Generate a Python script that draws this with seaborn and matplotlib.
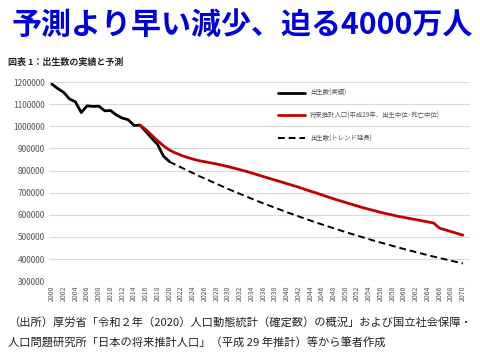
import numpy as np
import pandas as pd
import seaborn as sns
from matplotlib import pyplot as plt

sns.set_style('white')
plt.rcParams['font.family'] = ['Noto Sans CJK JP', 'DejaVu Sans']

# 出生数（実績）
years_actual = list(range(2000, 2021))
births_actual = [1190547, 1170662, 1153855, 1123610, 1110721, 1062530, 1092674,
                 1089818, 1091156, 1070035, 1071304, 1050806, 1037231, 1029816,
                 1003539, 1005677, 976978, 946146, 918400, 865239, 840835]

# 将来推計人口（平成29年、出生中位・死亡中位）
years_proj = list(range(2015, 2071))
births_proj = [1005000, 985000, 960000, 935000, 912000, 893000, 880000, 869000,
               860000, 852000, 845000, 840000, 835000, 830000, 824000, 818000,
               811000, 804000, 797000, 789000, 781000, 773000, 765000, 757000,
               749000, 741000, 733000, 725000, 716000, 707000, 699000, 690000,
               681000, 672000, 664000, 656000, 648000, 640000, 632000, 625000,
               618000, 611000, 605000, 599000, 593000, 588000, 583000, 578000,
               573000, 568000, 563000, 540000, 532000, 524000, 516000, 508000]

# 出生数（トレンド延長）
years_trend = [2020, 2025, 2030, 2035, 2040, 2045, 2050, 2055, 2060, 2065, 2070]
births_trend = [840000, 776000, 717000, 662000, 612000, 565000, 522000,
                482000, 445000, 411000, 380000]

labels = ['出生数(実績)', '将来推計人口(平成29年、出生中位·死亡中位)', '出生数(トレンド延長)']

df_a = pd.DataFrame({'年': years_actual, '出生数': births_actual})
df_p = pd.DataFrame({'年': years_proj, '出生数': births_proj})
df_t = pd.DataFrame({'年': years_trend, '出生数': births_trend})

fig = plt.figure(figsize=(4.8, 3.6), dpi=100)
ax = fig.add_axes([0.102, 0.219, 0.877, 0.553])

sns.lineplot(data=df_a, x='年', y='出生数', ax=ax, color='black', lw=2.0, label=labels[0])
sns.lineplot(data=df_p, x='年', y='出生数', ax=ax, color='#c00000', lw=2.0, label=labels[1])
sns.lineplot(data=df_t, x='年', y='出生数', ax=ax, color='black', lw=1.4,
             linestyle=(0, (3.5, 2)), label=labels[2])

ax.set_xlim(1999.5, 2071.2)
ax.set_ylim(300000, 1200000)
ax.set_xticks(range(2000, 2071, 2))
ax.set_xticklabels([str(y) for y in range(2000, 2071, 2)], rotation=90,
                   fontsize=5, color='#555555')
ax.set_yticks(range(300000, 1200001, 100000))
ax.set_yticklabels([str(v) for v in range(300000, 1200001, 100000)],
                   fontsize=6, color='#555555')
ax.tick_params(length=0, pad=3)
ax.grid(axis='y', color='#d9d9d9', lw=0.8)
ax.set_axisbelow(True)
for s in ax.spines.values():
    s.set_visible(False)
ax.set_xlabel('')
ax.set_ylabel('')

ax.legend(loc='upper left', bbox_to_anchor=(0.53, 0.995), frameon=False,
          fontsize=4.6, handlelength=4.2, labelspacing=2.3, labelcolor='#555555')

fig.text(0.505, 0.932, '予測より早い減少、迫る4000万人', ha='center', va='center',
         fontsize=21.6, fontweight='bold', color='#0000dd')
fig.text(0.017, 0.828, '図表 1：出生数の実績と予測', ha='left', va='center',
         fontsize=6.5, fontweight='bold', color='#222222')
fig.text(0.017, 0.105, '（出所）厚労省「令和２年（2020）人口動態統計（確定数）の概況」および国立社会保障・',
         ha='left', va='center', fontsize=8.1, color='#222222')
fig.text(0.017, 0.047, '人口問題研究所「日本の将来推計人口」（平成 29 年推計）等から筆者作成',
         ha='left', va='center', fontsize=8.1, color='#222222')

plt.savefig('out.png', dpi=100)
